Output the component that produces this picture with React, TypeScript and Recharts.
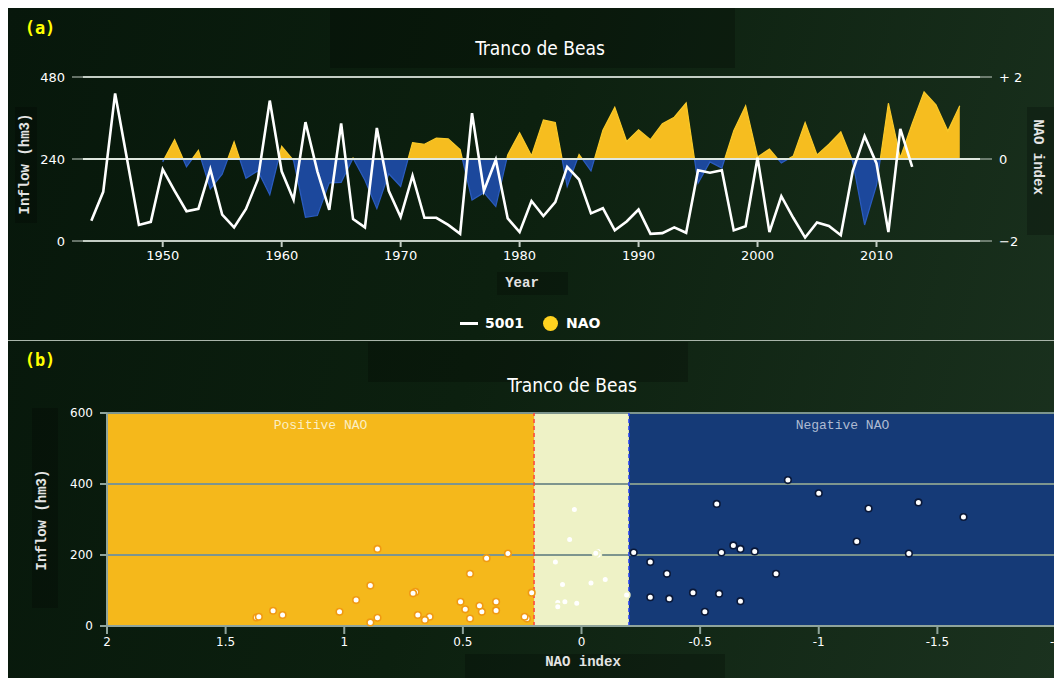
import React from "react";
import {
  ComposedChart,
  Area,
  Line,
  XAxis,
  YAxis,
  CartesianGrid,
  ReferenceLine,
  ReferenceArea,
  ScatterChart,
  Scatter,
} from "recharts";

// water years shown on the time axis
const years = [
  1944, 1945, 1946, 1947, 1948, 1949,
  1950, 1951, 1952, 1953, 1954, 1955, 1956, 1957, 1958, 1959,
  1960, 1961, 1962, 1963, 1964, 1965, 1966, 1967, 1968, 1969,
  1970, 1971, 1972, 1973, 1974, 1975, 1976, 1977, 1978, 1979,
  1980, 1981, 1982, 1983, 1984, 1985, 1986, 1987, 1988, 1989,
  1990, 1991, 1992, 1993, 1994, 1995, 1996, 1997, 1998, 1999,
  2000, 2001, 2002, 2003, 2004, 2005, 2006, 2007, 2008, 2009,
  2010, 2011, 2012, 2013, 2014, 2015, 2016, 2017,
];

// station 5001 inflow (hm3)
const inflow = [
  59, 144, 432, 240, 47, 56,
  210, 147, 87, 94, 210, 77, 40, 94, 180, 411,
  204, 121, 348, 204, 91, 344, 64, 40, 331, 147,
  70, 191, 68, 68, 47, 21, 374, 147, 238, 66,
  26, 117, 73, 114, 217, 180, 81, 96, 31, 57,
  92, 21, 23, 40, 24, 207, 200, 207, 31, 43,
  244, 26, 131, 68, 10, 54, 44, 17, 205, 307,
  227, 26, 328, 217, null, null, null, null,
];

// winter NAO index
const nao = [
  null, null, null, null, null, null,
  -0.07, 0.47, -0.19, 0.21, -0.73, -0.37, 0.42, -0.47, -0.29, -0.87,
  0.31, -0.04, -1.42, -1.38, -0.58, -0.57, 0.02, -0.52, -1.21, -0.36,
  -0.67, 0.4, 0.36, 0.51, 0.49, 0.23, -1.0, -0.82, -1.16, 0.1,
  0.64, 0.08, 0.95, 0.89, -0.67, 0.11, -0.29, 0.7, 1.26, 0.43,
  0.71, 0.47, 0.86, 1.02, 1.37, -0.59, -0.07, -0.22, 0.69, 1.3,
  0.05, 0.24, -0.1, 0.07, 0.89, 0.1, 0.36, 0.66, -0.06, -1.61,
  -0.64, 1.36, 0.03, 0.86, 1.64, 1.32, 0.68, 1.3,
];

const yearTicks = [1950, 1960, 1970, 1980, 1990, 2000, 2010];
const inflowTicks = [0, 240, 480];
const naoTicks = [-2, 0, 2];
const scatterXTicks = [2, 1.5, 1, 0.5, 0, -0.5, -1, -1.5, -2];
const scatterYTicks = [0, 200, 400, 600];
const neutralBand = 0.2;

const rows = years.map((year, i) => ({ year, inflow: inflow[i], nao: nao[i] }));
const pairs = rows.filter((r) => r.inflow != null && r.nao != null);
const positive = pairs.filter((r) => (r.nao as number) > neutralBand);
const neutral = pairs.filter(
  (r) => (r.nao as number) <= neutralBand && (r.nao as number) >= -neutralBand
);
const negative = pairs.filter((r) => (r.nao as number) < -neutralBand);

const naoVals = nao.filter((v) => v != null) as number[];
const naoMax = Math.max(...naoVals);
const naoMin = Math.min(...naoVals);
const split = naoMax / (naoMax - naoMin);

const mono = "'Liberation Mono', 'DejaVu Sans Mono', monospace";
const sans = "'DejaVu Sans', Verdana, sans-serif";
const cond = "'DejaVu Sans Condensed', 'DejaVu Sans', sans-serif";

const dot = (stroke: string) => (p: any) =>
  <circle cx={p.cx} cy={p.cy} r={3.3} fill="#ffffff" stroke={stroke} strokeWidth={1.6} />;

const Txt = ({ x, y, rot = 0, style, children }: any) => (
  <div
    style={{
      position: "absolute",
      left: x,
      top: y,
      transform: `translate(-50%, -50%) rotate(${rot}deg)`,
      whiteSpace: "nowrap",
      ...style,
    }}
  >
    {children}
  </div>
);

const Box = ({ x, y, w, h }: any) => (
  <div
    style={{
      position: "absolute",
      left: x,
      top: y,
      width: w,
      height: h,
      background: "rgba(0,0,0,0.22)",
    }}
  />
);

const labelStyle = { fontFamily: mono, fontSize: 14, color: "#e4e4e4", fontWeight: 700 };
const panelTag = { fontFamily: "'DejaVu Sans Mono', monospace", fontSize: 17, fontWeight: 700, color: "#ffff00" };

export default function App() {
  return (
    <div
      style={{
        position: "relative",
        width: 1054,
        height: 670,
        background: "linear-gradient(105deg, #07170b 0%, #0c200f 45%, #1b321f 100%)",
        overflow: "hidden",
      }}
    >
      <Box x={322} y={0} w={405} h={60} />
      <Box x={7} y={99} w={22} h={116} />
      <Box x={1019} y={99} w={31} h={128} />
      <Box x={489} y={264} w={71} h={23} />
      <Box x={360} y={334} w={320} h={40} />
      <Box x={24} y={400} w={26} h={200} />
      <Box x={457} y={646} w={260} h={24} />

      {/* panel (a) */}
      <div style={{ position: "absolute", left: 0, top: 0 }}>
        <ComposedChart
          width={1054}
          height={332}
          data={rows}
          margin={{ top: 69, right: 0, bottom: 59, left: 0 }}
        >
          <defs>
            <linearGradient id="naoFill" x1="0" y1="0" x2="0" y2="1">
              <stop offset={split} stopColor="#f6bd1f" />
              <stop offset={split} stopColor="#1c489c" />
            </linearGradient>
            <linearGradient id="naoStroke" x1="0" y1="0" x2="0" y2="1">
              <stop offset={split} stopColor="#f9c928" />
              <stop offset={split} stopColor="#2a5cc0" />
            </linearGradient>
          </defs>
          <CartesianGrid
            yAxisId="inflow"
            vertical={false}
            stroke="#c3cdc4"
            strokeWidth={2}
          />
          <XAxis
            dataKey="year"
            type="number"
            domain={[1943.3, 2018.7]}
            ticks={yearTicks}
            allowDataOverflow
            height={40}
            stroke="#c3cdc4"
            strokeWidth={2}
            tickSize={6}
            tickMargin={4}
            tick={{ fill: "#ffffff", fontSize: 13, fontFamily: sans }}
          />
          <YAxis
            yAxisId="inflow"
            domain={[0, 480]}
            ticks={inflowTicks}
            width={75}
            axisLine={false}
            stroke="#c3cdc4"
            tickSize={11}
            tickMargin={7}
            tick={{ fill: "#ffffff", fontSize: 13, fontFamily: sans }}
          />
          <YAxis
            yAxisId="nao"
            orientation="right"
            domain={[-2, 2]}
            ticks={naoTicks}
            width={82}
            axisLine={false}
            stroke="#c3cdc4"
            tickSize={12}
            tickMargin={7}
            tickFormatter={(v: number) => (v > 0 ? `+ ${v}` : v < 0 ? `\u2212${-v}` : "0")}
            tick={{ fill: "#ffffff", fontSize: 13, fontFamily: sans }}
          />
          <Area
            yAxisId="nao"
            dataKey="nao"
            type="linear"
            fill="url(#naoFill)"
            fillOpacity={1}
            stroke="url(#naoStroke)"
            strokeWidth={1.2}
            isAnimationActive={false}
          />
          <ReferenceLine yAxisId="nao" y={0} stroke="#dfe7df" strokeWidth={2} />
          <Line
            yAxisId="inflow"
            dataKey="inflow"
            type="linear"
            stroke="#ffffff"
            strokeWidth={2.6}
            dot={false}
            isAnimationActive={false}
          />
        </ComposedChart>
      </div>

      <Txt x={32} y={20} style={panelTag}>
        (a)
      </Txt>
      <Txt x={532} y={40} style={{ fontFamily: cond, fontSize: 19, color: "#ffffff" }}>
        Tranco de Beas
      </Txt>
      <Txt x={17} y={156} rot={-90} style={labelStyle}>
        Inflow (hm3)
      </Txt>
      <Txt x={1030} y={149} rot={90} style={labelStyle}>
        NAO index
      </Txt>
      <Txt x={514} y={275} style={labelStyle}>
        Year
      </Txt>
      <div
        style={{
          position: "absolute",
          left: 452,
          top: 307,
          display: "flex",
          alignItems: "center",
          fontFamily: sans,
          fontWeight: 700,
          fontSize: 14,
          color: "#ffffff",
        }}
      >
        <span style={{ display: "inline-block", width: 18, height: 3, background: "#ffffff", marginRight: 7 }} />
        <span>5001</span>
        <span
          style={{
            display: "inline-block",
            width: 15,
            height: 15,
            borderRadius: "50%",
            background: "#ffd21f",
            marginLeft: 19,
            marginRight: 8,
          }}
        />
        <span>NAO</span>
      </div>

      <div style={{ position: "absolute", left: 0, top: 332, width: 1054, height: 1, background: "#a9b5aa" }} />

      {/* panel (b) */}
      <div style={{ position: "absolute", left: 0, top: 334 }}>
        <ScatterChart
          width={1054}
          height={336}
          margin={{ top: 71, right: 6, bottom: 22, left: 0 }}
          style={{ overflow: "visible" }}
        >
          <XAxis
            dataKey="nao"
            type="number"
            domain={[-2, 2]}
            reversed
            ticks={scatterXTicks}
            allowDataOverflow
            height={30}
            stroke="#8fa49b"
            strokeWidth={2}
            tickSize={8}
            tickMargin={3}
            tick={{ fill: "#ffffff", fontSize: 12, fontFamily: sans }}
          />
          <YAxis
            dataKey="inflow"
            type="number"
            domain={[0, 600]}
            ticks={scatterYTicks}
            width={99}
            stroke="#8fa49b"
            strokeWidth={2}
            tickSize={7}
            tickMargin={7}
            tick={{ fill: "#ffffff", fontSize: 12, fontFamily: sans }}
          />
          <ReferenceArea
            x1={2}
            x2={neutralBand}
            y1={0}
            y2={600}
            fill="#f5b81b"
            fillOpacity={1}
            stroke="none"
            label={{
              value: "Positive NAO",
              position: "insideTop",
              offset: 7,
              fill: "#fbefc4",
              fontFamily: mono,
              fontSize: 13,
            }}
          />
          <ReferenceArea
            x1={neutralBand}
            x2={-neutralBand}
            y1={0}
            y2={600}
            fill="#eef2c6"
            fillOpacity={1}
            stroke="none"
          />
          <ReferenceArea
            x1={-neutralBand}
            x2={-2}
            y1={0}
            y2={600}
            fill="#153a77"
            fillOpacity={1}
            stroke="none"
            label={{
              value: "Negative NAO",
              position: "insideTop",
              offset: 7,
              fill: "#aebbd2",
              fontFamily: mono,
              fontSize: 13,
            }}
          />
          {scatterYTicks.slice(1).map((t) => (
            <ReferenceLine key={t} y={t} stroke="#7d958e" strokeWidth={2} />
          ))}
          <ReferenceLine x={neutralBand} stroke="#ff3a3a" strokeWidth={1.4} strokeDasharray="4 3" />
          <ReferenceLine x={-neutralBand} stroke="#2540ff" strokeWidth={1.4} strokeDasharray="4 3" />
          <Scatter data={positive} shape={dot("#f09a12")} isAnimationActive={false} />
          <Scatter data={neutral} shape={dot("#eef2c6")} isAnimationActive={false} />
          <Scatter data={negative} shape={dot("#0a1838")} isAnimationActive={false} />
        </ScatterChart>
      </div>

      <Txt x={32} y={352} style={panelTag}>
        (b)
      </Txt>
      <Txt x={564} y={377} style={{ fontFamily: cond, fontSize: 19, color: "#ffffff" }}>
        Tranco de Beas
      </Txt>
      <Txt x={34} y={512} rot={-90} style={labelStyle}>
        Inflow (hm3)
      </Txt>
      <Txt x={575} y={654} style={labelStyle}>
        NAO index
      </Txt>
    </div>
  );
}
